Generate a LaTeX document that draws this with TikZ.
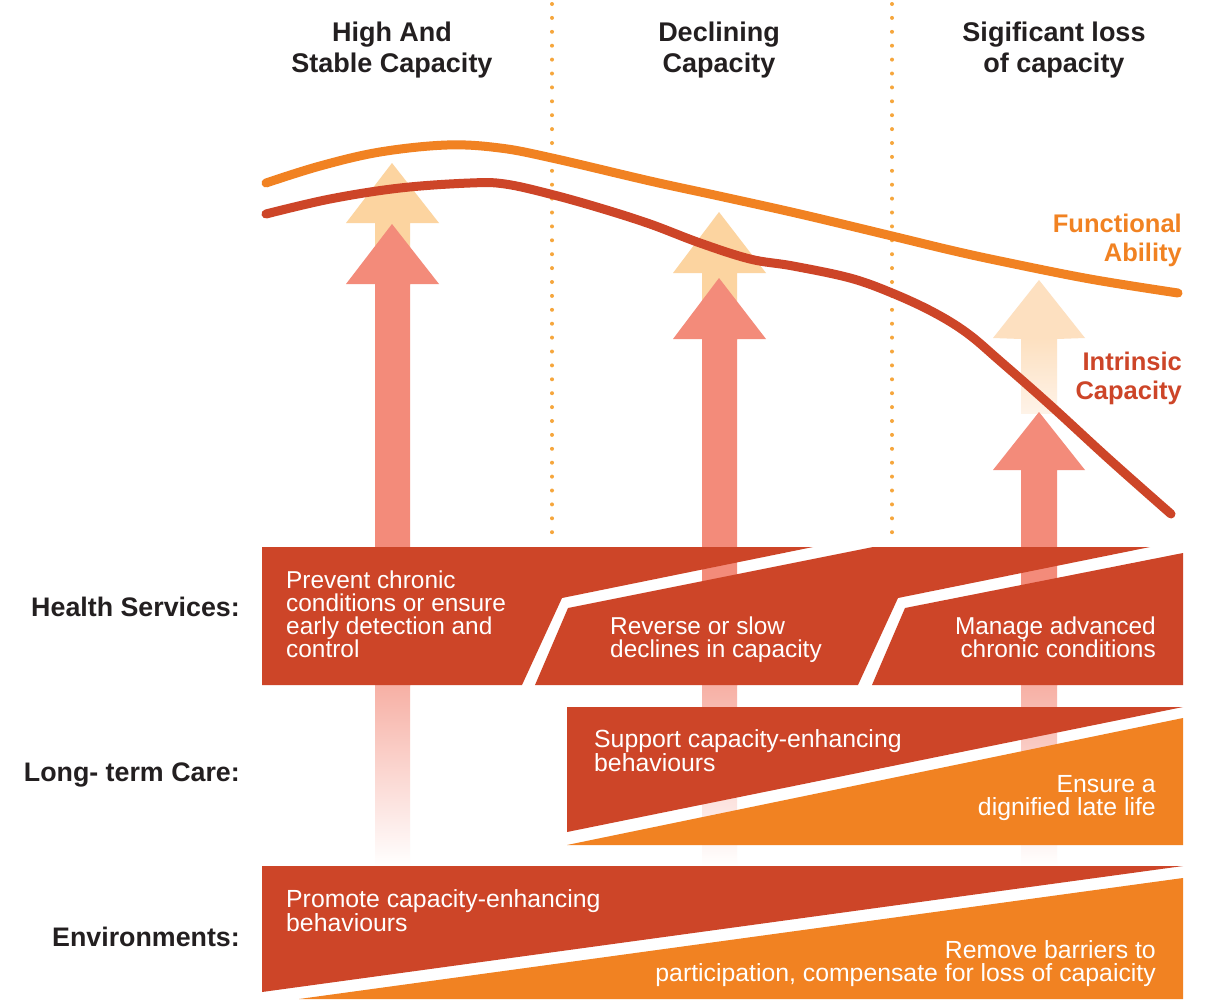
\documentclass[tikz,border=0pt]{standalone}
\usepackage{fontspec}
\setmainfont{Liberation Sans}
\definecolor{bandred}{RGB}{205,69,40}
\definecolor{bandorange}{RGB}{241,130,34}
\definecolor{salmon}{RGB}{243,139,122}
\definecolor{peach}{RGB}{252,212,160}
\definecolor{peachlight}{RGB}{253,224,192}
\definecolor{peachpale}{RGB}{254,243,232}
\definecolor{dotc}{RGB}{246,166,60}
\definecolor{labeltext}{RGB}{35,31,32}
\tikzset{
  dotline/.style={draw=dotc, line width=4pt, line cap=round, dash pattern=on 0pt off 13.9pt},
  curveline/.style={line width=9pt, line cap=round, line join=round},
  title/.style={font=\fontsize{27}{31}\selectfont\bfseries, text=labeltext, align=center, anchor=north, inner sep=0pt},
  rowlabel/.style={font=\fontsize{26.8}{30}\selectfont\bfseries, text=labeltext, anchor=base east, inner sep=0pt},
  curvelabel/.style={font=\fontsize{25.5}{29}\selectfont\bfseries, align=right, anchor=north east, inner sep=0pt},
  bandtextL/.style={font=\fontsize{24.4}{23}\selectfont, text=white, align=left, anchor=north west, inner sep=0pt},
  bandtextR/.style={font=\fontsize{24.4}{23}\selectfont, text=white, align=right, anchor=north east, inner sep=0pt},
  bandtextLw/.style={bandtextL, font=\fontsize{24.8}{23}\selectfont},
  bandtextRw/.style={bandtextR, font=\fontsize{24.8}{23}\selectfont}
}
\begin{document}
\begin{tikzpicture}[x=1pt,y=-1pt]
\useasboundingbox (0,0) rectangle (1213,999);
\fill[white] (0,0) rectangle (1213,999);

% dotted separators
\draw[dotline] (552,4) -- (552,540);
\draw[dotline] (892,4) -- (892,540);

% titles
\node[title] (t1) at (392,22) {High And\\Stable Capacity};
\node[title] (t2) at (719,22) {Declining\\Capacity};
\node[title] (t3) at (1054,22) {Sigificant loss\\of capacity};

% arrow 1
\fill[peach] (375,285) -- (375,223) -- (346,223) -- (392,163) -- (439,223) -- (410,223) -- (410,285) -- cycle;
\fill[salmon] (375,686) -- (375,284) -- (346,284) -- (392,224) -- (439,284) -- (410,284) -- (410,686) -- cycle;
\shade[top color=salmon!68!white, bottom color=white] (375,685) rectangle (410,866);

% arrow 2
\fill[peach] (702,340) -- (702,273) -- (673,273) -- (719,212) -- (766,273) -- (737,273) -- (737,340) -- cycle;
\fill[salmon] (702,686) -- (702,339) -- (673,339) -- (719,278) -- (766,339) -- (737,339) -- (737,686) -- cycle;
\shade[top color=salmon!68!white, bottom color=white] (702,685) rectangle (737,866);

% arrow 3
\fill[peachlight] (1021,339) -- (993,338) -- (1039,280) -- (1085,338) -- (1057,339) -- cycle;
\shade[top color=peachlight, bottom color=peachpale] (1021,338) rectangle (1057,413);
\fill[salmon] (1021,686) -- (1021,470) -- (993,470) -- (1039,412) -- (1085,470) -- (1057,470) -- (1057,686) -- cycle;
\shade[top color=salmon!68!white, bottom color=white] (1021,685) rectangle (1057,866);

% curves
\draw[curveline, bandorange] plot[smooth, tension=0.6] coordinates {(266,183) (320,166) (380,152) (447,145) (500,148) (552,158) (650,181) (719,196) (800,214) (892,236) (950,250) (1000,261) (1090,279) (1178,293)};
\draw[curveline, bandred] plot[smooth, tension=0.6] coordinates {(266,214) (330,199) (400,188) (470,183) (505,184) (550,194) (600,208) (650,224) (700,243) (750,259) (793,266) (850,278) (892,293) (933,312) (967,333) (1000,361) (1050,405) (1110,460) (1171,514)};

\node[curvelabel, text=bandorange] (fa) at (1182,214) {Functional\\Ability};
\node[curvelabel, text=bandred] (ic) at (1182,352) {Intrinsic\\Capacity};

% health services band
\fill[bandred] (262,547) -- (813,547) -- (562,598) -- (522,685) -- (262,685) -- cycle;
\fill[bandred] (568,608) -- (873,547) -- (1150,547) -- (898,598) -- (858,685) -- (535,685) -- cycle;
\fill[bandred] (905,608) -- (1183,553) -- (1183,685) -- (872,685) -- cycle;

% long-term care band
\fill[bandred] (567,707) -- (1183,707) -- (567,832) -- cycle;
\fill[bandorange] (567,845) -- (1183,718) -- (1183,845) -- cycle;

% environments band
\fill[bandred] (262,866) -- (1183,866) -- (262,992) -- cycle;
\fill[bandorange] (299,999) -- (1183,878) -- (1183,999) -- cycle;

% row labels
\node[rowlabel] (hs) at (240,616) {Health Services:};
\node[rowlabel] (ltc) at (240,781) {Long- term Care:};
\node[rowlabel] (env) at (240,946) {Environments:};

% band texts
\node[bandtextL] (p1) at (286,571) {Prevent chronic\\conditions or ensure\\early detection and\\control};
\node[bandtextL] (p2) at (610,617) {Reverse or slow\\declines in capacity};
\node[bandtextR] (p3) at (1156,617) {Manage advanced\\chronic conditions};
\node[bandtextLw] (l1) at (594,729) {Support capacity-enhancing\\behaviours};
\node[bandtextRw] (l2) at (1156,775) {Ensure a\\dignified late life};
\node[bandtextLw] (e1) at (286,889) {Promote capacity-enhancing\\behaviours};
\node[bandtextRw] (e2) at (1156,940) {Remove barriers to\\participation, compensate for loss of capaicity};
\end{tikzpicture}
\end{document}
